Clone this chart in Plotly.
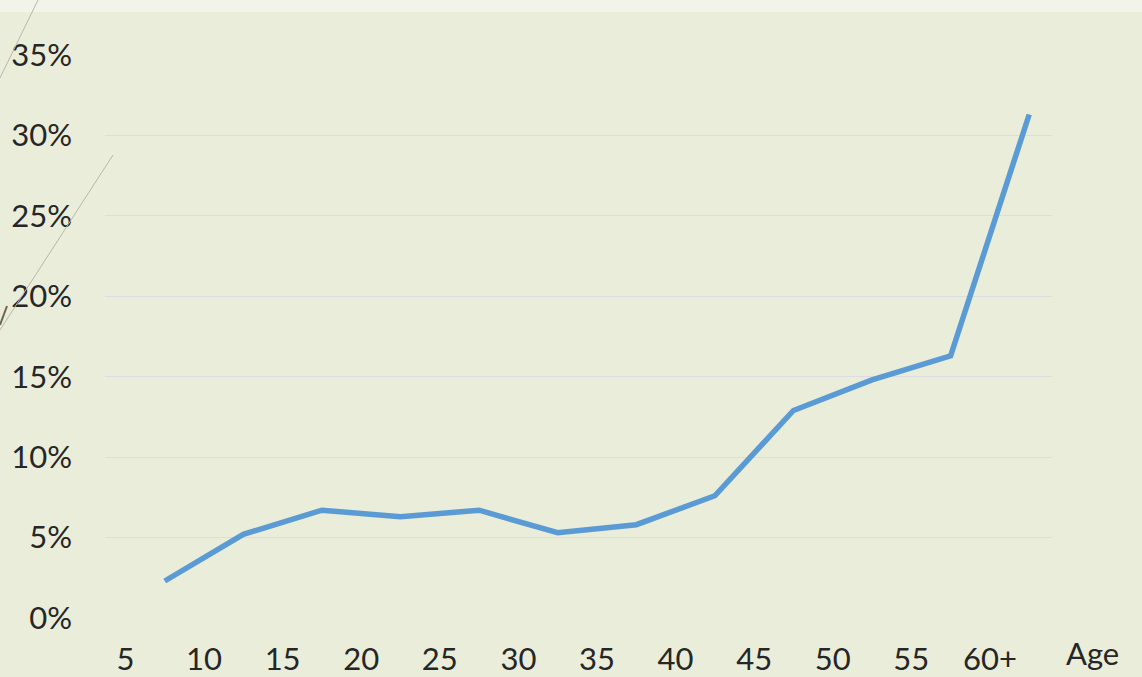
import plotly.graph_objects as go

age_starts = [5, 10, 15, 20, 25, 30, 35, 40, 45, 50, 55, 60]
tick_labels = ["5", "10", "15", "20", "25", "30", "35", "40", "45", "50", "55", "60+"]
share_pct = [2.3, 5.2, 6.7, 6.3, 6.7, 5.3, 5.8, 7.6, 12.9, 14.8, 16.3, 31.3]

bin_mid = [a + 2.5 for a in age_starts]
values = [v / 100 for v in share_pct]

W, H = 1142, 677
L, R, T, B = 105, 90, 55, 59
PW, PH = W - L - R, H - T - B


def px(x):
    return (x - L) / PW


def py(y):
    return (H - B - y) / PH


fig = go.Figure()
fig.add_trace(go.Scatter(
    x=bin_mid, y=values, mode="lines",
    line=dict(color="#5b9bd5", width=5.5),
    hoverinfo="skip", showlegend=False,
))

font = dict(family="Lato, Carlito, sans-serif", size=31, color="#262626")

fig.update_layout(
    width=W, height=H,
    margin=dict(l=L, r=R, t=T, b=B, autoexpand=False),
    paper_bgcolor="#e9edda",
    plot_bgcolor="rgba(0,0,0,0)",
    font=font,
    xaxis=dict(
        range=[3.7, 63.95], tickmode="array", tickvals=age_starts, ticktext=tick_labels,
        showgrid=False, zeroline=False, showline=False, ticks="",
        ticklabelstandoff=20, tickfont=font, automargin=False,
    ),
    yaxis=dict(
        range=[0, 0.35], tickvals=[0, 0.05, 0.10, 0.15, 0.20, 0.25, 0.30, 0.35],
        tickformat=".0%", showgrid=True, gridcolor="#dcdce2", gridwidth=1,
        zeroline=False, showline=False, ticks="", ticklabelstandoff=32, tickfont=font,
        automargin=False,
    ),
    annotations=[dict(
        text="Age", xref="paper", yref="paper", x=px(1092), y=py(653),
        showarrow=False, font=font, xanchor="center", yanchor="middle",
    )],
    shapes=[
        dict(type="rect", xref="paper", yref="paper",
             x0=px(0), x1=px(W), y0=py(12), y1=py(0),
             fillcolor="#f2f4ea", line=dict(width=0), layer="below"),
        dict(type="line", xref="paper", yref="paper",
             x0=px(38), y0=py(0), x1=px(0), y1=py(78),
             line=dict(color="#b8b8a8", width=1)),
        dict(type="line", xref="paper", yref="paper",
             x0=px(113), y0=py(155), x1=px(0), y1=py(330),
             line=dict(color="#b8b8a8", width=1)),
        dict(type="line", xref="paper", yref="paper",
             x0=px(7), y0=py(306), x1=px(0), y1=py(325),
             line=dict(color="#6e6650", width=2)),
    ],
)

fig.write_html(
    "out.html",
    config={"displayModeBar": False},
    post_script="document.body.style.margin='0';document.body.style.overflow='hidden';",
)
